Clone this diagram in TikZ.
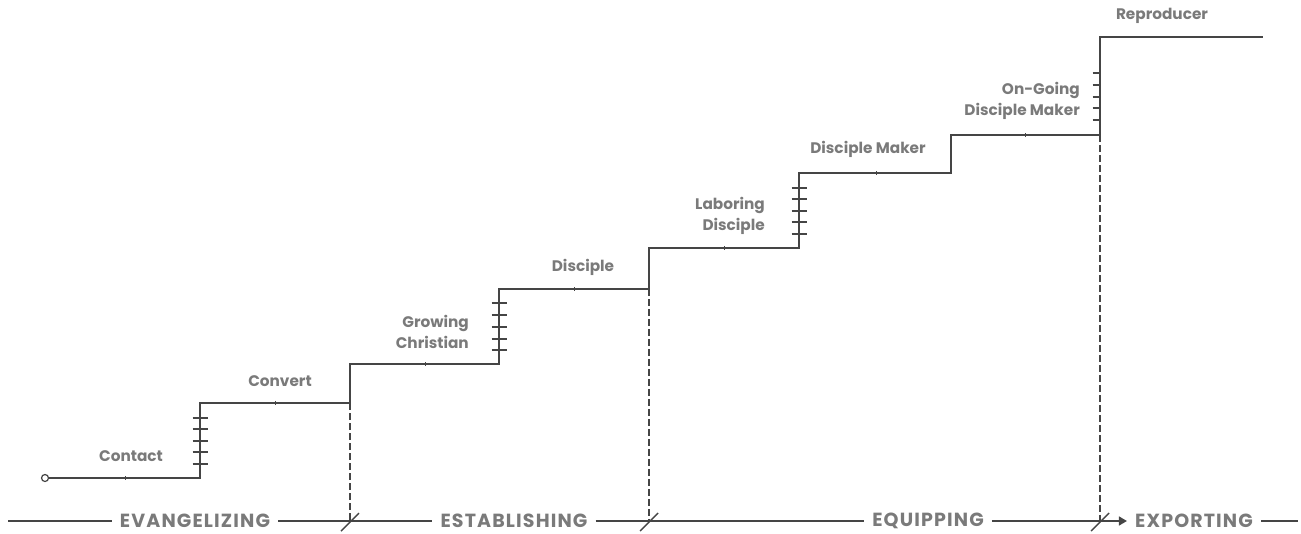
\documentclass[tikz,border=0pt]{standalone}
\usepackage{fontspec}
\setmainfont{Poppins}
\newfontfamily\phasefont{Poppins}[LetterSpace=6]
\usetikzlibrary{arrows.meta}
\definecolor{linec}{HTML}{454545}
\definecolor{textc}{HTML}{7A7A7A}
\begin{document}
\begin{tikzpicture}[x=1pt,y=-1pt,
  stair/.style={draw=linec, line width=1.8pt, line join=miter},
  tickmark/.style={draw=linec, line width=1.6pt},
  nub/.style={draw=linec, line width=0.8pt},
  guide/.style={draw=linec, line width=1.2pt, dash pattern=on 7pt off 3pt},
  baseline/.style={draw=linec, line width=1.5pt},
  slash/.style={draw=linec, line width=1.4pt},
  lab/.style={text=textc, font=\bfseries\fontsize{15.3}{21}\selectfont, inner sep=0pt},
  phase/.style={text=textc, font=\phasefont\bfseries\fontsize{19}{20}\selectfont, inner xsep=8pt, inner ysep=0pt}]
\useasboundingbox (0,0) rectangle (1301,533);

% stair corners
\coordinate (s0) at (45,478);
\coordinate (s1) at (200,478);
\coordinate (s2) at (200,403);
\coordinate (s3) at (350,403);
\coordinate (s4) at (350,364);
\coordinate (s5) at (499,364);
\coordinate (s6) at (499,289);
\coordinate (s7) at (649,289);
\coordinate (s8) at (649,248);
\coordinate (s9) at (799,248);
\coordinate (s10) at (799,173);
\coordinate (s11) at (951,173);
\coordinate (s12) at (951,135);
\coordinate (s13) at (1100,135);
\coordinate (s14) at (1100,37);
\coordinate (s15) at (1263,37);

% start circle
\node[circle, draw=linec, line width=1.2pt, fill=white, minimum size=7pt, inner sep=0pt] (start) at (s0) {};

\draw[stair] (start.east) -- (s1) -- (s2) -- (s3) -- (s4) -- (s5) -- (s6) -- (s7) -- (s8) -- (s9) -- (s10) -- (s11) -- (s12) -- (s13) -- (s14) -- (s15);

% small nubs at segment middles
\foreach \x/\y in {125/478, 275/403, 425/364, 574/289, 724/248, 876/173, 1025/135}
  \draw[nub] (\x,\y-1.8) -- (\x,\y+1.8);

% ticks on climbing steps
\foreach \y in {418,429,441,452,464} \draw[tickmark] (192.5,\y) -- (207.5,\y);
\foreach \y in {303,315,327,339,350} \draw[tickmark] (491.5,\y) -- (506.5,\y);
\foreach \y in {188,199,211,222,234} \draw[tickmark] (791.5,\y) -- (806.5,\y);
\foreach \y in {73,85,97,108,120} \draw[tickmark] (1092.5,\y) -- (1100,\y);

% stage labels
\node[lab] (contact) at (131,456) {Contact};
\node[lab] (convert) at (280,381) {Convert};
\node[lab, align=right, anchor=east] (growing) at (469,332) {Growing\\Christian};
\node[lab] (disciple) at (583,267) {Disciple};
\node[lab, align=right, anchor=east] (laboring) at (765,216) {Laboring\\Disciple};
\node[lab] (dmaker) at (868,149) {Disciple Maker};
\node[lab, align=right, anchor=east] (ongoing) at (1080,101) {On-Going\\Disciple Maker};
\node[lab] (repro) at (1162,16) {Reproducer};

% bottom phase line
\coordinate (b0) at (8,521);
\coordinate (b1) at (350,521);
\coordinate (b2) at (649,521);
\coordinate (b3) at (1100,521);
\coordinate (b4) at (1298,521);

\node[phase] (evang) at (195,521) {EVANGELIZING};
\node[phase] (estab) at (514,521) {ESTABLISHING};
\node[phase] (equip) at (928,521) {EQUIPPING};
\node[phase] (export) at (1194,521) {EXPORTING};

\draw[baseline] (b0) -- (evang.west);
\draw[baseline] (evang.east) -- (b1) -- (estab.west);
\draw[baseline] (estab.east) -- (b2) -- (equip.west);
\draw[baseline] (equip.east) -- (b3);
\draw[baseline, -{Triangle[length=8pt,width=9pt]}] (b3) -- (export.west);
\draw[baseline] (export.east) -- (b4);

% dashed guides
\draw[guide] (s3) -- (b1);
\draw[guide] (s7) -- (b2);
\draw[guide] (s13) -- (b3);

% slashes
\foreach \c in {b1,b2,b3}
  \draw[slash] ([shift={(-9,10)}]\c) -- ([shift={(9,-8)}]\c);
\end{tikzpicture}
\end{document}
